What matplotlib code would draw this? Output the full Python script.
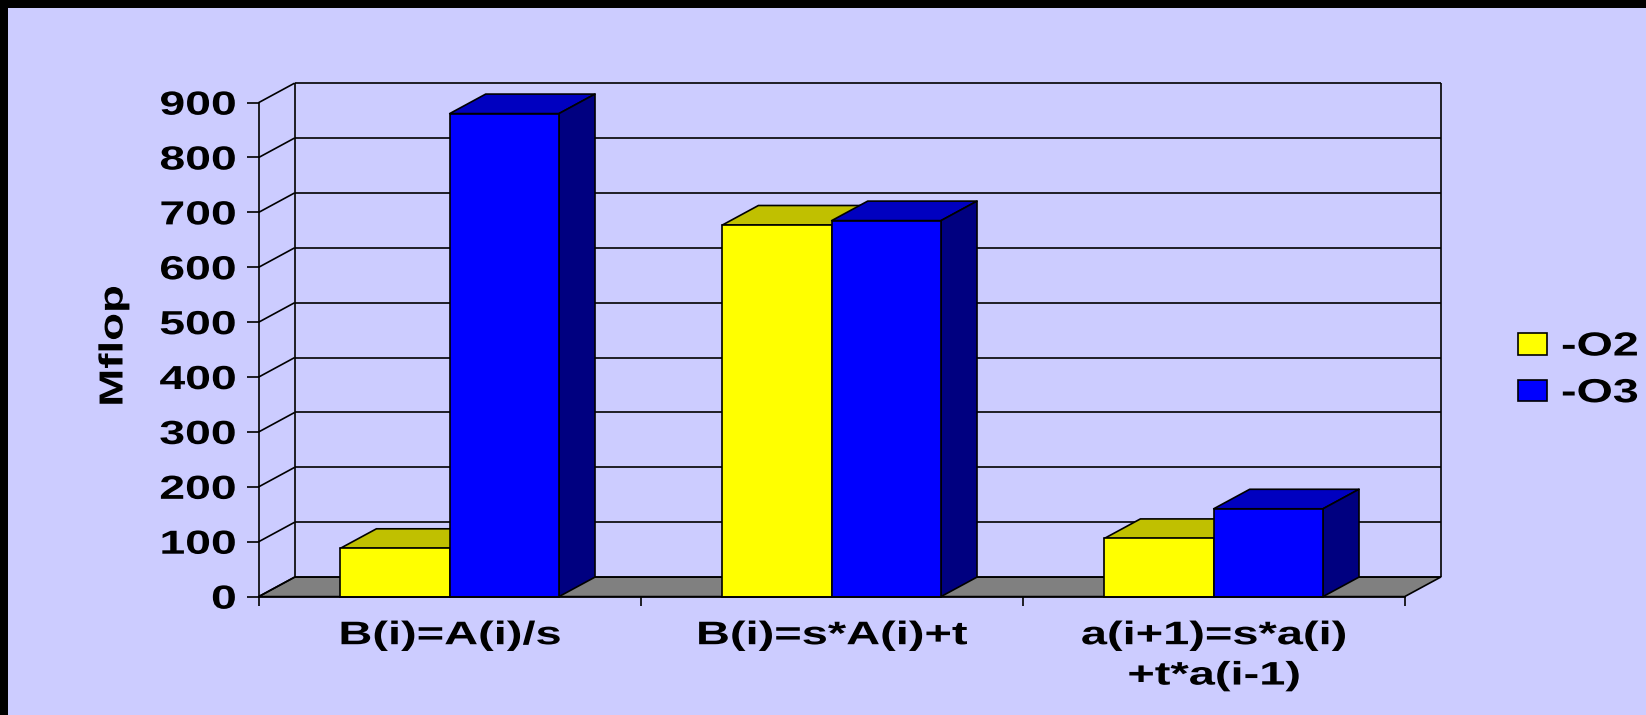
import matplotlib
matplotlib.use("Agg")
import matplotlib.pyplot as plt
from matplotlib.patches import Polygon, Rectangle, Patch
from matplotlib.patheffects import AbstractPathEffect
from matplotlib.transforms import Affine2D

categories = ["B(i)=A(i)/s", "B(i)=s*A(i)+t", "a(i+1)=s*a(i)\n+t*a(i-1)"]
series_names = ["-O2", "-O3"]
o2_values = [88, 677, 106]
o3_values = [880, 685, 160]
y_ticks = [0, 100, 200, 300, 400, 500, 600, 700, 800, 900]

W, H = 1646, 715
BG = "#CCCCFF"
FRONT = {"-O2": "#FFFF00", "-O3": "#0000FF"}
TOP = {"-O2": "#C0C000", "-O3": "#0000C0"}
SIDE = {"-O2": "#808000", "-O3": "#000080"}
LW = 1.2
FONT = "Liberation Sans"


class WideText(AbstractPathEffect):
    """Widen glyph runs along their baseline, about a chosen end of the run."""

    def __init__(self, factor, anchor="center"):
        super().__init__()
        self.factor = factor
        self.anchor = anchor

    def draw_path(self, renderer, gc, tpath, affine, rgbFace=None):
        xs = tpath.vertices[:, 0]
        lo, hi = xs.min(), xs.max()
        pivot = {"left": lo, "right": hi, "center": (lo + hi) / 2}[self.anchor]
        stretch = Affine2D().translate(-pivot, 0).scale(self.factor, 1).translate(pivot, 0)
        renderer.draw_path(gc, tpath, stretch + affine, rgbFace)


fig = plt.figure(figsize=(W / 100, H / 100), dpi=100, facecolor=BG)
fig.add_artist(Rectangle((0, 1 - 8 / H), 1, 8 / H, transform=fig.transFigure, color="black", lw=0))
fig.add_artist(Rectangle((0, 0), 8 / W, 1, transform=fig.transFigure, color="black", lw=0))

ax = fig.add_axes([258.7 / W, (H - 596.6) / H, 1146 / W, 494 / H])
ax.set_facecolor("none")
ax.set_xlim(-0.5, 2.5)
ax.set_ylim(0, 900)

# Depth of the 3D box, in data units
DX = 36 * 3 / 1146
DY = 19.5 * 900 / 494
BAR_W = 109.3 * 3 / 1146
x0, x1 = -0.5, 2.5


def poly(points, face, z):
    ax.add_patch(Polygon(points, closed=True, facecolor=face, edgecolor="black",
                         lw=LW, zorder=z, clip_on=False, joinstyle="round"))


def line(xs, ys, z=1):
    ax.plot(xs, ys, color="black", lw=LW, zorder=z, clip_on=False, solid_capstyle="butt")


# Floor, back wall and side wall
poly([(x0, 0), (x1, 0), (x1 + DX, DY), (x0 + DX, DY)], "#808080", 1)
for v in y_ticks:
    line([x0 + DX, x1 + DX], [v + DY, v + DY])
    line([x0, x0 + DX], [v, v + DY])
line([x0 + DX, x0 + DX], [DY, 900 + DY])
line([x1 + DX, x1 + DX], [DY, 900 + DY])

# Bars: hidden faces first, then the front face of each series
z = 3
for i in range(len(categories)):
    for name, values, off in ((series_names[0], o2_values, -1), (series_names[1], o3_values, 0)):
        v = values[i]
        left = i + off * BAR_W
        right = left + BAR_W
        poly([(left, v), (right, v), (right + DX, v + DY), (left + DX, v + DY)], TOP[name], z)
        poly([(right, 0), (right + DX, DY), (right + DX, v + DY), (right, v)], SIDE[name], z)
        ax.bar(left, v, width=BAR_W, align="edge", facecolor=FRONT[name], edgecolor="black",
               lw=LW, zorder=z + 1, clip_on=False)
        z += 2

# Axes
for side in ("top", "right"):
    ax.spines[side].set_visible(False)
for side in ("left", "bottom"):
    ax.spines[side].set_linewidth(LW)
    ax.spines[side].set_zorder(50)

ax.set_yticks(y_ticks)
ax.set_xticks([-0.5, 0.5, 1.5, 2.5], labels=[])
ax.set_xticks(range(len(categories)), labels=categories, minor=True)
ax.tick_params(axis="y", which="major", length=8.6, width=LW, pad=7.5)
ax.tick_params(axis="x", which="major", length=6.5, width=LW)
ax.tick_params(axis="x", which="minor", length=0, pad=17)

for lab in ax.get_yticklabels():
    lab.set(family=FONT, weight="bold", fontsize=24)
    lab.set_path_effects([WideText(1.39, "right")])
for lab in ax.get_xticklabels(minor=True):
    lab.set(family=FONT, weight="bold", fontsize=23.5, linespacing=1.39)
    lab.set_path_effects([WideText(1.44, "center")])

ylab = ax.set_ylabel("Mflop", family=FONT, weight="bold", fontsize=24, va="center")
ylab.set_path_effects([WideText(1.37, "center")])
ax.yaxis.set_label_coords((114 - 258.7) / 1146, (596.6 - 346) / 494)

# Legend
handles = [Patch(facecolor=FRONT[n], edgecolor="black", lw=LW) for n in series_names]
leg = fig.legend(handles, series_names, frameon=False, loc="upper left",
                 bbox_to_anchor=(1518 / W, 1 - 331.5 / H), borderaxespad=0, borderpad=0,
                 prop={"family": FONT, "weight": "bold", "size": 24},
                 handlelength=0.86, handleheight=0.62, handletextpad=0.43, labelspacing=0.47)
for t in leg.get_texts():
    t.set_path_effects([WideText(1.4, "left")])

fig.savefig("out.png", dpi=100, facecolor=BG)
